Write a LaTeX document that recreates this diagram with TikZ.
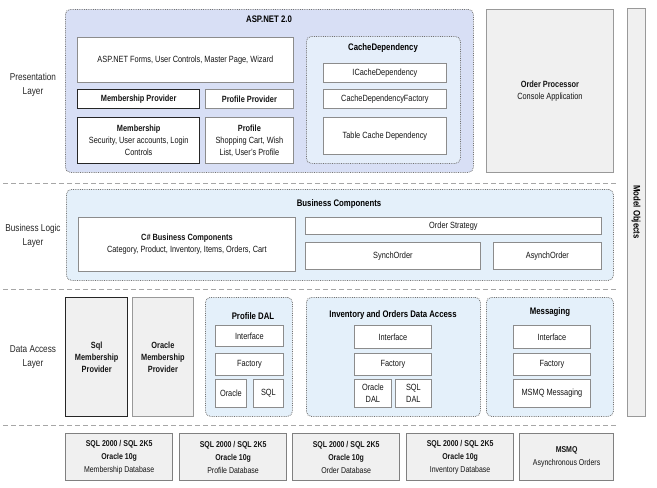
\documentclass[tikz,border=0pt]{standalone}
\usepackage{fontspec}
\setmainfont{Liberation Sans}[FakeStretch=0.82]
\usepackage{tikz}
\definecolor{aspfill}{RGB}{216,223,245}
\definecolor{cachefill}{RGB}{229,238,250}
\definecolor{bizfill}{RGB}{228,240,250}
\definecolor{boxgray}{RGB}{240,240,240}

\begin{document}
\begin{tikzpicture}[x=1pt, y=-1pt,
    txt/.style={font=\fontsize{9}{12}\selectfont, align=center, text=black!92},
    ttl/.style={font=\fontsize{9.5}{12}\selectfont\bfseries, text=black},
    lyr/.style={font=\fontsize{10}{14}\selectfont, align=center, text=black!85},
    wbox/.style={txt, draw=black!45, fill=white, line width=0.8pt, anchor=north west, inner sep=1pt},
    kbox/.style={wbox, draw=black!85, line width=1.4pt},
    gbox/.style={wbox, fill=boxgray, draw=black!40},
    dbox/.style={gbox, draw=black!50, line width=1.2pt, font=\fontsize{8.5}{13}\selectfont},
    grp/.style={draw=black!55, densely dotted, line width=0.8pt, rounded corners=5pt, anchor=north west, inner sep=0pt},
    sep/.style={draw=black!35, dash pattern=on 5pt off 3pt, line width=0.8pt}]
    \useasboundingbox (0,0) rectangle (657,488);

    % 层名称
    \node[lyr] (pres) at (33,85) {Presentation\\Layer};
    \node[lyr] (blog) at (33,236) {Business Logic\\Layer};
    \node[lyr] (dacc) at (33,357) {Data Access\\Layer};

    % 分隔虚线
    \draw[sep] (3,183) -- (617,183);
    \draw[sep] (3,289) -- (617,289);
    \draw[sep] (3,425) -- (617,425);

    % 表示层: ASP.NET 2.0
    \node[grp, fill=aspfill, minimum width=408, minimum height=163] (asp) at (65,9) {};
    \node[ttl] (asptitle) at (269,19) {ASP.NET 2.0};
    \node[wbox, minimum width=216, minimum height=45] (forms) at (77,37)
        {ASP.NET Forms, User Controls, Master Page, Wizard};
    \node[kbox, minimum width=122, minimum height=19] (mprov) at (77,89) {\textbf{Membership Provider}};
    \node[wbox, minimum width=88, minimum height=19] (pprov) at (205,89) {\textbf{Profile Provider}};
    \node[kbox, minimum width=122, minimum height=46] (memb) at (77,117)
        {\textbf{Membership}\\Security, User accounts, Login\\Controls};
    \node[wbox, minimum width=88, minimum height=46] (prof) at (205,117)
        {\textbf{Profile}\\Shopping Cart, Wish\\List, User's Profile};

    % CacheDependency
    \node[grp, fill=cachefill, minimum width=154, minimum height=127] (cache) at (306,36) {};
    \node[ttl] (cachetitle) at (383,48) {CacheDependency};
    \node[wbox, minimum width=123, minimum height=19] (icache) at (323,63) {ICacheDependency};
    \node[wbox, minimum width=123, minimum height=19] (cfact) at (323,89) {CacheDependencyFactory};
    \node[wbox, minimum width=123, minimum height=37] (tcache) at (323,117) {Table Cache Dependency};

    % Order Processor 和 Model Objects
    \node[gbox, minimum width=127, minimum height=163] (ordproc) at (486,9)
        {\textbf{Order Processor}\\Console Application};
    \node[gbox, minimum width=18, minimum height=408] (model) at (627,8) {};
    \node[ttl, rotate=-90] (modeltxt) at (636,212) {Model Objects};

    % 业务逻辑层
    \node[grp, fill=bizfill, minimum width=547, minimum height=91] (bizc) at (66,189) {};
    \node[ttl] (biztitle) at (339,204) {Business Components};
    \node[wbox, minimum width=217, minimum height=54] (csbiz) at (78,217)
        {\textbf{C\# Business Components}\\Category, Product, Inventory, Items, Orders, Cart};
    \node[wbox, minimum width=296, minimum height=17] (ostrat) at (305,217) {Order Strategy};
    \node[wbox, minimum width=175, minimum height=27] (synch) at (305,242) {SynchOrder};
    \node[wbox, minimum width=108, minimum height=27] (asynch) at (493,242) {AsynchOrder};

    % 数据访问层
    \node[kbox, fill=boxgray, minimum width=62, minimum height=119] (sqlmp) at (65,297)
        {\textbf{Sql}\\\textbf{Membership}\\\textbf{Provider}};
    \node[gbox, minimum width=61, minimum height=119] (oramp) at (132,297)
        {\textbf{Oracle}\\\textbf{Membership}\\\textbf{Provider}};

    % Profile DAL
    \node[grp, fill=bizfill, minimum width=87, minimum height=119] (pdal) at (205,297) {};
    \node[ttl] (pdaltitle) at (253,316) {Profile DAL};
    \node[wbox, minimum width=68, minimum height=21] (pdint) at (215,325) {Interface};
    \node[wbox, minimum width=68, minimum height=22] (pdfac) at (215,353) {Factory};
    \node[wbox, minimum width=31, minimum height=28] (pdora) at (215,379) {Oracle};
    \node[wbox, minimum width=30, minimum height=28] (pdsql) at (253,379) {SQL};

    % Inventory and Orders Data Access
    \node[grp, fill=bizfill, minimum width=174, minimum height=119] (iodal) at (306,297) {};
    \node[ttl] (iotitle) at (393,315) {Inventory and Orders Data Access};
    \node[wbox, minimum width=77, minimum height=23] (ioint) at (354,325) {Interface};
    \node[wbox, minimum width=77, minimum height=22] (iofac) at (354,353) {Factory};
    \node[wbox, minimum width=37, minimum height=28] (ioora) at (354,379) {Oracle\\DAL};
    \node[wbox, minimum width=36, minimum height=28] (iosql) at (395,379) {SQL\\DAL};

    % Messaging
    \node[grp, fill=bizfill, minimum width=127, minimum height=119] (msg) at (486,297) {};
    \node[ttl] (msgtitle) at (550,312) {Messaging};
    \node[wbox, minimum width=77, minimum height=23] (msint) at (513,325) {Interface};
    \node[wbox, minimum width=77, minimum height=22] (msfac) at (513,353) {Factory};
    \node[wbox, minimum width=77, minimum height=28] (msmq) at (513,379) {MSMQ Messaging};

    % 数据库
    \node[dbox, minimum width=107, minimum height=47] (dbmem) at (65,433)
        {\textbf{SQL 2000 / SQL 2K5}\\\textbf{Oracle 10g}\\Membership Database};
    \node[dbox, minimum width=107, minimum height=47] (dbprof) at (179,433)
        {\textbf{SQL 2000 / SQL 2K5}\\\textbf{Oracle 10g}\\Profile Database};
    \node[dbox, minimum width=107, minimum height=47] (dbord) at (292,433)
        {\textbf{SQL 2000 / SQL 2K5}\\\textbf{Oracle 10g}\\Order Database};
    \node[dbox, minimum width=107, minimum height=47] (dbinv) at (406,433)
        {\textbf{SQL 2000 / SQL 2K5}\\\textbf{Oracle 10g}\\Inventory Database};
    \node[dbox, minimum width=94, minimum height=47] (dbmsmq) at (519,433)
        {\textbf{MSMQ}\\Asynchronous Orders};

\end{tikzpicture}
\end{document}
